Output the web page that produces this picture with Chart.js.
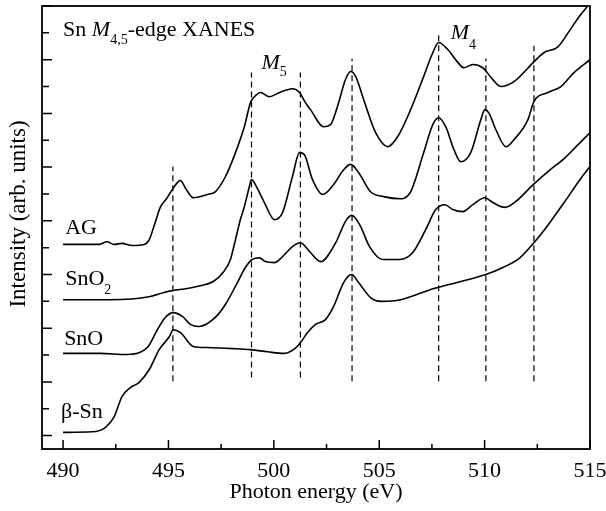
<!DOCTYPE html>
<html>
<head>
<meta charset="utf-8">
<script src="https://cdn.jsdelivr.net/npm/chart.js@4.4.0/dist/chart.umd.min.js"></script>
<style>
  html, body { margin: 0; padding: 0; background: #fff; }
  #wrap { width: 606px; height: 511px; }
</style>
</head>
<body>
<div id="wrap"><canvas id="xanes" width="606" height="511"></canvas></div>
<script>
// photon energy (eV), intensity (arb. units, offset per sample)
const agCurve = [
  [490.00, 3.56], [491.71, 3.56], [492.09, 3.61], [492.42, 3.56], [492.80, 3.58],
  [493.28, 3.54], [493.85, 3.56], [494.09, 3.65], [494.37, 3.97], [494.61, 4.25],
  [494.94, 4.43], [495.18, 4.58], [495.42, 4.71], [495.56, 4.75], [495.85, 4.58],
  [496.18, 4.43], [496.84, 4.49], [497.22, 4.54], [497.70, 4.82], [498.18, 5.27],
  [498.60, 5.75], [498.89, 6.20], [499.08, 6.31], [499.36, 6.39], [499.79, 6.31],
  [500.27, 6.39], [500.88, 6.46], [501.22, 6.39], [501.50, 6.20], [501.74, 6.07],
  [502.36, 5.75], [502.69, 5.79], [503.02, 6.13], [503.40, 6.63], [503.64, 6.78],
  [503.88, 6.69], [504.26, 6.26], [504.83, 5.64], [505.40, 5.38], [505.88, 5.57],
  [506.49, 6.07], [507.11, 6.69], [507.54, 7.13], [507.82, 7.32], [508.25, 7.19],
  [508.73, 6.95], [509.01, 6.85], [509.44, 6.91], [509.91, 6.85], [510.39, 6.63],
  [510.77, 6.50], [511.39, 6.59], [512.34, 6.96], [512.81, 7.13], [513.48, 7.24],
  [513.96, 7.50], [514.48, 7.80], [514.91, 8.01]
];
const sno2Curve = [
  [490.00, 2.53], [492.23, 2.53], [494.14, 2.59], [494.75, 2.66], [495.18, 2.70],
  [495.89, 2.74], [496.51, 2.79], [497.13, 2.87], [497.60, 3.04], [497.94, 3.28],
  [498.18, 3.65], [498.41, 4.02], [498.60, 4.26], [498.84, 4.64], [498.94, 4.77],
  [499.13, 4.67], [499.55, 4.34], [500.03, 4.02], [500.41, 4.15], [500.88, 4.82],
  [501.22, 5.27], [501.45, 5.23], [501.83, 4.77], [502.31, 4.49], [502.83, 4.67],
  [503.31, 4.95], [503.64, 5.05], [504.02, 4.90], [504.59, 4.54], [505.21, 4.45],
  [506.02, 4.41], [506.49, 4.54], [507.11, 5.27], [507.54, 5.79], [507.82, 5.92],
  [508.16, 5.75], [508.54, 5.33], [508.87, 5.10], [509.34, 5.27], [509.82, 5.88],
  [510.01, 6.07], [510.20, 6.01], [510.53, 5.70], [511.01, 5.38], [511.39, 5.51],
  [512.05, 5.88], [512.34, 6.22], [513.00, 6.39], [513.62, 6.50], [514.24, 6.76],
  [515.00, 7.00]
];
const snoCurve = [
  [490.00, 1.53], [491.76, 1.53], [493.04, 1.51], [493.66, 1.55], [494.04, 1.66],
  [494.47, 1.97], [494.85, 2.20], [495.23, 2.29], [495.66, 2.22], [496.04, 2.07],
  [496.46, 2.03], [497.22, 2.20], [497.70, 2.44], [498.27, 2.85], [498.65, 3.13],
  [498.98, 3.28], [499.32, 3.31], [499.60, 3.24], [500.03, 3.22], [500.41, 3.33],
  [500.88, 3.52], [501.26, 3.59], [501.69, 3.43], [502.22, 3.24], [502.93, 3.59],
  [503.40, 3.99], [503.69, 4.10], [504.07, 3.93], [504.54, 3.52], [505.16, 3.28],
  [505.97, 3.28], [506.59, 3.41], [507.21, 3.84], [507.68, 4.21], [508.11, 4.30],
  [508.49, 4.21], [508.96, 4.17], [509.44, 4.30], [510.01, 4.43], [510.39, 4.34],
  [510.96, 4.25], [511.48, 4.36], [512.29, 4.67], [513.10, 4.95], [513.72, 5.14],
  [514.34, 5.38], [515.00, 5.64]
];
const betaSnCurve = [
  [490.00, 0.06], [491.38, 0.07], [492.00, 0.15], [492.42, 0.35], [492.80, 0.73],
  [493.18, 0.89], [493.61, 0.99], [494.09, 1.23], [494.56, 1.60], [495.04, 1.84],
  [495.23, 1.97], [495.56, 1.92], [496.18, 1.66], [496.84, 1.64], [498.08, 1.62],
  [498.89, 1.60], [499.70, 1.56], [500.46, 1.53], [500.93, 1.60], [501.26, 1.73],
  [501.60, 1.92], [501.98, 2.07], [502.45, 2.16], [502.83, 2.40], [503.31, 2.85],
  [503.69, 3.00], [504.02, 2.85], [504.59, 2.57], [505.07, 2.50], [506.02, 2.53],
  [507.59, 2.74], [508.87, 2.87], [510.06, 3.00], [510.87, 3.13], [511.67, 3.31],
  [512.38, 3.61], [513.10, 3.97], [513.86, 4.39], [514.53, 4.77], [515.00, 5.01]
];

// dashed markers: energy, lower end, upper end
const markerEnergy = [495.21, 498.94, 501.26, 503.71, 507.82, 510.06, 512.34];
const markerBottom = [1.01, 1.08, 1.08, 1.01, 1.01, 1.01, 1.01];
const markerTop    = [5.01, 6.76, 6.76, 7.02, 7.50, 7.02, 7.26];

const energyTicks = [490, 495, 500, 505, 510, 515];
const energyMinor = [492.5, 497.5, 502.5, 507.5, 512.5];
const intensityMajor = [0, 1, 2, 3, 4, 5, 6, 7, 8];
const intensityMinor = [0.5, 1.5, 2.5, 3.5, 4.5, 5.5, 6.5, 7.5];

const FONT = '"Liberation Serif", "Times New Roman", serif';

const curve = (pts) => ({
  data: pts.map(p => ({ x: p[0], y: p[1] })),
  borderColor: '#000',
  borderWidth: 1.6,
  pointRadius: 0,
  fill: false,
  cubicInterpolationMode: 'monotone'
});

const markers = markerEnergy.map((e, i) => ({
  data: [{ x: e, y: markerBottom[i] }, { x: e, y: markerTop[i] }],
  borderColor: '#000',
  borderWidth: 1.2,
  borderDash: [6, 4],
  pointRadius: 0,
  fill: false
}));

function drawRich(ctx, x, y, parts) {
  let cx = x;
  parts.forEach(p => {
    const size = p.sub ? 14 : 22;
    ctx.font = (p.italic ? 'italic ' : '') + size + 'px ' + FONT;
    ctx.fillText(p.t, cx, y + (p.dy || 0));
    cx += ctx.measureText(p.t).width;
  });
}

const frameAndText = {
  id: 'frameAndText',
  afterDraw(chart) {
    const { ctx, chartArea: a, scales: { x, y } } = chart;
    ctx.save();
    ctx.strokeStyle = '#000';
    ctx.fillStyle = '#000';
    ctx.lineWidth = 1.8;
    ctx.strokeRect(a.left, a.top, a.right - a.left, a.bottom - a.top);

    ctx.lineWidth = 1.5;
    ctx.beginPath();
    energyTicks.forEach(v => {
      const px = x.getPixelForValue(v);
      ctx.moveTo(px, a.bottom); ctx.lineTo(px, a.bottom - 9);
    });
    energyMinor.forEach(v => {
      const px = x.getPixelForValue(v);
      ctx.moveTo(px, a.bottom); ctx.lineTo(px, a.bottom - 5);
    });
    intensityMajor.forEach(v => {
      const py = y.getPixelForValue(v);
      ctx.moveTo(a.left, py); ctx.lineTo(a.left + 10, py);
    });
    intensityMinor.forEach(v => {
      const py = y.getPixelForValue(v);
      ctx.moveTo(a.left, py); ctx.lineTo(a.left + 7, py);
    });
    ctx.stroke();

    ctx.textBaseline = 'alphabetic';
    ctx.textAlign = 'left';
    const at = (e, v) => [x.getPixelForValue(e), y.getPixelForValue(v)];
    drawRich(ctx, ...at(490.0, 7.45), [
      { t: 'Sn ' }, { t: 'M', italic: true }, { t: '4,5', sub: true, dy: 8 }, { t: '-edge XANES' }
    ]);
    drawRich(ctx, ...at(499.41, 6.82), [{ t: 'M', italic: true }, { t: '5', sub: true, dy: 7 }]);
    drawRich(ctx, ...at(508.39, 7.39), [{ t: 'M', italic: true }, { t: '4', sub: true, dy: 10 }]);
    drawRich(ctx, ...at(490.1, 3.76), [{ t: 'AG' }]);
    drawRich(ctx, ...at(490.1, 2.81), [{ t: 'SnO' }, { t: '2', sub: true, dy: 9 }]);
    drawRich(ctx, ...at(490.05, 1.69), [{ t: 'SnO' }]);
    drawRich(ctx, ...at(489.9, 0.32), [{ t: 'β-Sn' }]);

    // y axis title
    ctx.translate(25, 214);
    ctx.rotate(-Math.PI / 2);
    ctx.textAlign = 'center';
    ctx.font = '23px ' + FONT;
    ctx.fillText('Intensity (arb. units)', 0, 0);
    ctx.restore();
  }
};

new Chart(document.getElementById('xanes'), {
  type: 'line',
  data: {
    datasets: [curve(agCurve), curve(sno2Curve), curve(snoCurve), curve(betaSnCurve), ...markers]
  },
  options: {
    responsive: false,
    animation: false,
    layout: { padding: { top: 6, right: 16, left: 0, bottom: 0 } },
    plugins: { legend: { display: false }, tooltip: { enabled: false } },
    scales: {
      x: {
        type: 'linear',
        min: 489,
        max: 515,
        afterFit: s => { s.height = 62; s.paddingLeft = 0; s.paddingRight = 0; },
        afterBuildTicks: s => { s.ticks = energyTicks.map(v => ({ value: v })); },
        grid: { display: false, drawTicks: false },
        border: { display: false },
        ticks: { color: '#000', padding: 9, font: { family: FONT, size: 22 } },
        title: {
          display: true,
          text: 'Photon energy (eV)',
          color: '#000',
          font: { family: FONT, size: 22 },
          padding: { top: 0, bottom: 6 }
        }
      },
      y: {
        type: 'linear',
        min: -0.25,
        max: 8,
        afterFit: s => { s.width = 42; s.paddingTop = 0; s.paddingBottom = 0; },
        grid: { display: false, drawTicks: false },
        border: { display: false },
        ticks: { display: false }
      }
    }
  },
  plugins: [frameAndText]
});
</script>
</body>
</html>
